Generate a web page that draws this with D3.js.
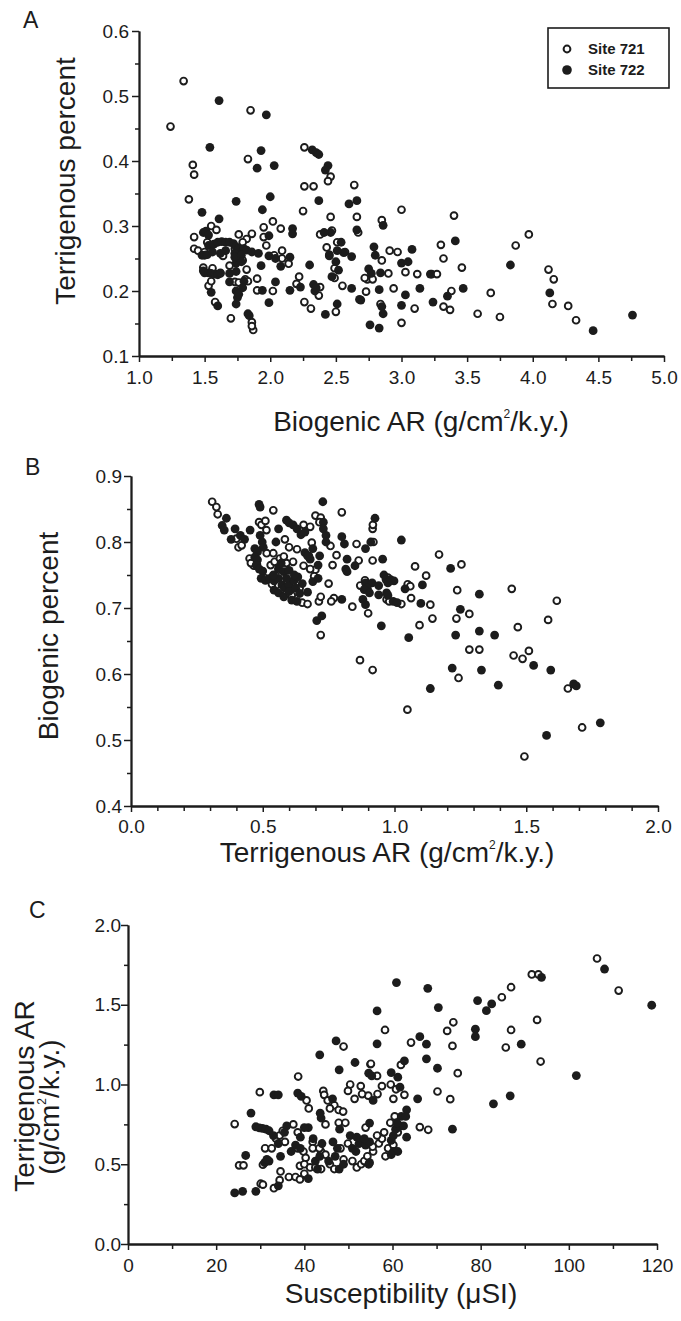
<!DOCTYPE html>
<html>
<head>
<meta charset="utf-8">
<title>Sites 721 and 722</title>
<script src="https://cdn.jsdelivr.net/npm/d3@7"></script>
<style>
body { margin: 0; background: #fff; }
svg text { font-family: "Liberation Sans", Arial, Helvetica, sans-serif; fill: #1c1c1c; }
</style>
</head>
<body>
<svg id="chart" width="681" height="1321"></svg>
<script>
/*jslint browser, multivar, white, fudge */
/*global window d3 */

//Panel A: biogenic AR (x) vs terrigenous percent (y)
var a721 = [
    [1.24,0.453],[1.34,0.523],[1.85,0.478],[1.83,0.403],[1.41,0.394],[1.42,0.379],
    [1.38,0.341],[2.26,0.421],[2.46,0.376],[2.44,0.369],[2.26,0.361],[2.33,0.361],
    [2.64,0.363],[2.25,0.323],[3.0,0.325],[3.40,0.316],[2.46,0.314],[2.66,0.314],
    [2.85,0.309],[2.02,0.307],[2.08,0.296],[1.95,0.298],[2.47,0.293],[2.38,0.287],
    [2.67,0.29],[1.86,0.288],[1.76,0.287],[1.55,0.3],[1.59,0.294],[1.42,0.283],
    [1.42,0.265],[3.97,0.287],[3.87,0.27],[3.30,0.271],[3.32,0.25],[3.46,0.236],
    [4.12,0.233],[4.16,0.218],[4.15,0.18],[4.27,0.177],[4.33,0.155],[3.58,0.165],
    [3.75,0.16],[3.68,0.197],[3.38,0.2],[3.32,0.176],[3.37,0.171],[3.23,0.226],
    [3.27,0.226],[3.10,0.173],[3.0,0.151],[3.12,0.226],[3.03,0.229],[2.97,0.26],
    [2.91,0.262],[2.94,0.204],[2.90,0.227],[2.84,0.18],[2.85,0.247],[2.74,0.218],
    [2.78,0.218],[2.73,0.199],[2.55,0.208],[2.43,0.267],[2.45,0.256],[2.49,0.235],
    [2.49,0.22],[2.50,0.168],[2.38,0.206],[2.37,0.193],[2.31,0.173],[2.26,0.183],
    [2.22,0.222],[2.20,0.211],[2.14,0.242],[2.09,0.262],[2.09,0.25],[1.95,0.283],
    [1.90,0.219],[1.90,0.201],[1.86,0.152],[1.87,0.14],[1.86,0.146],[1.70,0.158],
    [1.82,0.233],[1.81,0.218],[1.83,0.215],[1.73,0.214],[1.76,0.213],[1.69,0.239],
    [1.64,0.254],[1.49,0.236],[1.56,0.235],[1.53,0.208],[1.58,0.183],[1.82,0.28],
    [1.79,0.275],[1.73,0.265],[1.76,0.25],[1.79,0.247],[1.45,0.262],[1.50,0.26],
    [1.52,0.275],[1.62,0.227],[1.55,0.215],[2.03,0.255],[1.97,0.27],[2.51,0.275],
    [2.57,0.26],[2.72,0.22],[2.02,0.2]];
var a722 = [
    [1.61,0.493],[1.97,0.471],[1.54,0.421],[1.93,0.416],[1.90,0.389],[2.03,0.393],
    [1.74,0.338],[2.0,0.345],[1.94,0.325],[2.32,0.417],[2.35,0.413],[2.37,0.41],
    [2.44,0.393],[2.42,0.386],[2.37,0.339],[2.60,0.334],[2.66,0.339],[1.48,0.321],
    [1.61,0.311],[2.86,0.301],[2.17,0.296],[2.17,0.288],[2.46,0.29],[2.66,0.294],
    [1.49,0.29],[1.51,0.292],[1.53,0.286],[3.41,0.277],[3.83,0.24],[4.13,0.197],
    [4.46,0.139],[4.76,0.163],[3.47,0.204],[3.35,0.192],[3.24,0.183],[3.22,0.226],
    [3.14,0.204],[3.03,0.194],[3.0,0.178],[3.0,0.243],[3.05,0.245],[3.08,0.264],
    [2.84,0.228],[2.83,0.202],[2.85,0.176],[2.86,0.165],[2.76,0.148],[2.83,0.143],
    [2.79,0.268],[2.80,0.255],[2.75,0.234],[2.77,0.227],[2.69,0.186],[2.62,0.204],
    [2.62,0.253],[2.56,0.259],[2.51,0.262],[2.50,0.245],[2.52,0.232],[2.47,0.222],
    [2.51,0.18],[2.42,0.164],[2.33,0.21],[2.34,0.2],[2.35,0.205],[2.30,0.24],
    [2.23,0.206],[2.15,0.201],[2.15,0.252],[2.08,0.238],[2.04,0.214],[1.99,0.254],
    [1.99,0.285],[1.93,0.239],[1.94,0.201],[1.99,0.182],[1.83,0.165],[1.84,0.162],
    [1.74,0.18],[1.75,0.19],[1.74,0.2],[1.76,0.195],[1.69,0.214],[1.69,0.227],
    [1.53,0.27],[1.57,0.272],[1.60,0.275],[1.63,0.276],[1.66,0.275],[1.69,0.275],
    [1.72,0.273],[1.74,0.268],[1.76,0.265],[1.78,0.26],[1.73,0.258],[1.80,0.265],
    [1.82,0.263],[1.86,0.26],[1.91,0.258],[1.48,0.255],[1.50,0.255],[1.52,0.256],
    [1.49,0.231],[1.50,0.228],[1.53,0.228],[1.55,0.227],[1.58,0.226],[1.60,0.225],
    [1.62,0.228],[1.55,0.198],[1.60,0.177],[1.74,0.23],[1.74,0.243],[1.73,0.252],
    [1.78,0.255],[1.78,0.245],[1.66,0.262],[1.62,0.258],[1.56,0.26],[1.80,0.215],
    [1.79,0.205],[2.04,0.25],[2.41,0.29],[2.54,0.275],[2.68,0.187],[2.45,0.254]];

//Panel B: terrigenous AR (x) vs biogenic percent (y)
var b721 = [
    [0.308,0.861],[0.324,0.853],[0.329,0.842],[0.408,0.792],[0.54,0.848],[0.486,0.83],
    [0.495,0.826],[0.51,0.832],[0.514,0.818],[0.584,0.804],[0.515,0.783],[0.54,0.783],
    [0.466,0.764],[0.478,0.766],[0.60,0.792],[0.63,0.789],[0.655,0.826],[0.68,0.823],
    [0.686,0.799],[0.70,0.84],[0.72,0.837],[0.715,0.83],[0.80,0.845],[0.856,0.797],
    [0.917,0.82],[0.918,0.826],[0.92,0.8],[0.757,0.794],[0.78,0.78],[0.864,0.772],
    [0.917,0.772],[1.169,0.781],[1.078,0.763],[1.254,0.766],[1.12,0.749],[0.975,0.746],
    [0.888,0.742],[0.87,0.734],[1.05,0.736],[1.06,0.733],[1.238,0.727],[1.445,0.729],
    [0.97,0.713],[0.98,0.71],[1.026,0.706],[1.063,0.715],[1.136,0.705],[1.284,0.691],
    [1.235,0.684],[1.144,0.684],[1.095,0.674],[1.468,0.671],[1.583,0.682],[1.616,0.711],
    [0.90,0.692],[0.84,0.702],[0.869,0.621],[0.917,0.606],[1.049,0.546],[1.243,0.594],
    [1.284,0.637],[1.322,0.637],[1.452,0.628],[1.486,0.623],[1.51,0.635],[1.658,0.578],
    [1.712,0.519],[1.493,0.475],[0.72,0.659],[0.713,0.71],[0.72,0.717],[0.77,0.715],
    [0.76,0.71],[0.75,0.737],[0.70,0.758],[0.695,0.748],[0.765,0.765],[0.51,0.745],
    [0.535,0.736],[0.568,0.727],[0.61,0.719],[0.65,0.708],[0.67,0.706],[0.53,0.765],
    [0.545,0.77],[0.565,0.775],[0.59,0.768],[0.615,0.77],[0.655,0.764],[0.68,0.759],
    [0.675,0.779],[0.58,0.778],[0.56,0.758],[0.45,0.775],[0.455,0.768],[0.62,0.742],
    [0.64,0.73],[0.40,0.805],[0.42,0.795]];
var b722 = [
    [0.362,0.836],[0.346,0.825],[0.354,0.818],[0.395,0.82],[0.38,0.804],[0.415,0.81],
    [0.431,0.804],[0.452,0.818],[0.486,0.857],[0.49,0.853],[0.49,0.81],[0.498,0.8],
    [0.502,0.792],[0.56,0.82],[0.59,0.833],[0.60,0.829],[0.615,0.826],[0.47,0.79],
    [0.48,0.785],[0.47,0.777],[0.48,0.773],[0.475,0.765],[0.487,0.759],[0.50,0.756],
    [0.55,0.8],[0.63,0.82],[0.645,0.811],[0.66,0.815],[0.69,0.79],[0.66,0.784],
    [0.68,0.774],[0.67,0.779],[0.728,0.861],[0.73,0.83],[0.73,0.82],[0.74,0.81],
    [0.74,0.8],[0.80,0.808],[0.81,0.797],[0.89,0.79],[0.91,0.8],[0.926,0.836],
    [0.716,0.779],[0.82,0.774],[0.85,0.764],[0.955,0.774],[1.026,0.803],[1.213,0.76],
    [0.96,0.75],[0.968,0.743],[0.985,0.743],[0.998,0.741],[0.975,0.738],[0.89,0.738],
    [0.915,0.738],[0.94,0.734],[0.897,0.73],[0.885,0.728],[0.905,0.723],[0.94,0.72],
    [1.04,0.729],[1.106,0.735],[1.322,0.721],[0.97,0.723],[0.975,0.719],[0.995,0.71],
    [1.01,0.708],[1.10,0.707],[1.25,0.698],[0.95,0.673],[1.232,0.659],[1.322,0.665],
    [1.38,0.659],[1.054,0.655],[0.88,0.713],[0.89,0.705],[1.136,0.578],[1.219,0.609],
    [1.33,0.606],[1.394,0.583],[1.528,0.613],[1.593,0.606],[1.68,0.585],[1.69,0.582],
    [1.781,0.526],[1.577,0.507],[0.705,0.681],[0.724,0.688],[0.8,0.713],[0.71,0.765],
    [0.815,0.759],[0.82,0.755],[0.494,0.745],[0.51,0.742],[0.527,0.745],[0.543,0.741],
    [0.56,0.745],[0.573,0.735],[0.585,0.73],[0.60,0.735],[0.617,0.742],[0.633,0.747],
    [0.65,0.737],[0.543,0.727],[0.56,0.723],[0.58,0.717],[0.6,0.725],[0.625,0.73],
    [0.64,0.722],[0.61,0.712],[0.63,0.71],[0.67,0.724],[0.69,0.74],[0.71,0.745],
    [0.56,0.76],[0.58,0.755],[0.6,0.757],[0.62,0.75],[0.59,0.745],[0.54,0.75],
    [0.57,0.768]];

//Panel C: susceptibility (x) vs terrigenous AR (y)
var c721 = [
    [106.4,1.79],[111.3,1.589],[91.6,1.69],[93.1,1.69],[86.9,1.61],[84.8,1.547],
    [86.9,1.342],[92.8,1.405],[85.7,1.232],[93.6,1.144],[68.1,0.716],[66.2,0.733],
    [73.1,0.908],[70.2,0.956],[74.8,1.071],[73.6,1.242],[72.4,1.336],[73.8,1.39],
    [64.2,1.263],[58.3,1.342],[48.9,1.238],[55.0,1.127],[56.5,1.054],[61.9,1.123],
    [59.6,1.0],[60.8,0.97],[60.2,0.91],[62.7,0.935],[57.6,0.99],[56.6,0.94],
    [54.5,0.93],[52.8,0.99],[53.1,0.94],[51.4,0.91],[50.4,1.0],[49.9,0.96],
    [44.3,0.96],[44.5,0.935],[45.3,0.9],[46.8,0.87],[45.8,0.85],[47.8,0.84],
    [48.8,0.83],[44.8,0.75],[47.8,0.76],[49.3,0.76],[29.9,0.952],[24.2,0.752],
    [25.2,0.493],[26.2,0.493],[30.1,0.378],[30.6,0.372],[33.1,0.35],[34.4,0.4],
    [34.6,0.455],[30.6,0.497],[31.1,0.6],[32.6,0.6],[33.6,0.66],[34.4,0.68],
    [35.1,0.71],[35.6,0.64],[36.5,0.42],[38.0,0.42],[39.0,0.405],[40.0,0.44],
    [39.0,0.49],[38.5,0.6],[39.8,0.58],[40.3,0.54],[40.0,0.5],[41.3,0.48],
    [42.5,0.48],[43.8,0.47],[43.8,0.58],[44.8,0.56],[45.8,0.5],[46.8,0.47],
    [41.9,0.64],[41.9,0.6],[43.4,0.6],[48.2,0.6],[49.9,0.63],[48.9,0.53],
    [50.9,0.52],[51.9,0.48],[52.9,0.5],[53.6,0.52],[54.3,0.55],[55.6,0.58],
    [56.9,0.63],[57.6,0.66],[58.1,0.7],[56.5,0.68],[53.9,0.73],[55.5,0.61],
    [59.0,0.6],[60.2,0.62],[61.2,0.7],[59.5,0.76],[60.5,0.8],[58.4,0.55],
    [38.5,0.7],[37.5,0.75],[40.5,0.9],[41.0,0.85],[38.6,1.05],[55.1,1.13]];
var c722 = [
    [108.1,1.724],[118.8,1.497],[93.8,1.672],[82.5,1.505],[81.3,1.463],[79.3,1.526],
    [78.8,1.347],[78.8,1.3],[89.2,1.253],[101.7,1.056],[86.7,0.929],[82.9,0.879],
    [73.6,0.72],[70.2,1.102],[67.7,1.161],[67.7,1.253],[66.2,1.3],[68.0,1.603],
    [70.4,1.482],[60.9,1.639],[56.5,1.461],[56.5,1.255],[47.2,1.273],[43.5,1.186],
    [47.9,1.092],[51.5,1.138],[54.6,1.071],[55.3,1.054],[59.7,1.075],[62.7,1.148],
    [61.2,1.046],[61.7,0.983],[63.2,0.841],[65.7,0.91],[55.6,0.9],[54.8,0.758],
    [46.4,0.91],[43.8,0.79],[43.6,0.82],[38.5,0.946],[39.3,0.925],[33.1,0.935],
    [34.1,0.935],[27.9,0.821],[29.0,0.735],[29.8,0.728],[30.5,0.725],[31.3,0.72],
    [32.0,0.71],[26.7,0.555],[24.2,0.32],[26.0,0.33],[29.0,0.33],[34.1,0.365],
    [31.0,0.51],[32.0,0.52],[31.5,0.53],[34.1,0.63],[34.6,0.55],[33.0,0.68],
    [38.0,0.62],[39.1,0.67],[39.1,0.6],[40.9,0.41],[42.5,0.52],[43.5,0.55],
    [45.5,0.52],[47.0,0.55],[47.5,0.6],[46.5,0.64],[40.9,0.73],[40.0,0.73],
    [47.9,0.47],[48.9,0.5],[50.9,0.6],[51.7,0.58],[52.4,0.63],[53.9,0.62],
    [54.8,0.64],[54.6,0.5],[54.8,0.51],[50.4,0.68],[51.9,0.67],[53.6,0.66],
    [59.7,0.65],[60.2,0.68],[60.7,0.72],[61.2,0.73],[61.7,0.74],[62.5,0.74],
    [63.2,0.67],[60.2,0.58],[61.2,0.58],[59.7,0.56],[62.0,0.8],[63.0,0.8],
    [61.0,0.76],[36.0,0.74],[35.5,0.7],[37.0,0.58],[42.0,0.66],[44.0,0.63],
    [48.0,0.72],[43.0,0.47]];

//labelled tick values, minor ticks are generated between them
var aXTicks = [1.0, 1.5, 2.0, 2.5, 3.0, 3.5, 4.0, 4.5, 5.0],
    aYTicks = [0.1, 0.2, 0.3, 0.4, 0.5, 0.6],
    bXTicks = [0.0, 0.5, 1.0, 1.5, 2.0],
    bYTicks = [0.4, 0.5, 0.6, 0.7, 0.8, 0.9],
    cXTicks = [0, 20, 40, 60, 80, 100, 120],
    cYTicks = [0.0, 0.5, 1.0, 1.5, 2.0];

var siteNames = ["Site 721", "Site 722"];


var app = (function () {
    "use strict";

    var ink = "#1c1c1c";

    function minorTicks (major, parts) {
        var out = [], i, j, step;
        for(i = 0; i < major.length - 1; i += 1) {
            step = (major[i + 1] - major[i]) / parts;
            for(j = 1; j < parts; j += 1) {
                out.push(major[i] + j * step); } }
        return out;
    }


    function styleAxis (sel) {
        sel.select(".domain").attr("stroke", ink).attr("stroke-width", 1.8);
        sel.selectAll(".tick line").attr("stroke", ink).attr("stroke-width", 1.5);
        sel.selectAll(".tick text").attr("font-size", 19).attr("fill", ink);
    }


    function drawAxes (g, pd) {
        //minor ticks, no labels
        g.append("g").attr("transform", "translate(0," + pd.y.range()[0] + ")")
            .call(d3.axisBottom(pd.x).tickValues(minorTicks(pd.xt, pd.xm))
                  .tickSize(5).tickSizeOuter(0).tickFormat(""))
            .call(styleAxis);
        g.append("g").attr("transform", "translate(" + pd.x.range()[0] + ",0)")
            .call(d3.axisLeft(pd.y).tickValues(minorTicks(pd.yt, pd.ym))
                  .tickSize(4).tickSizeOuter(0).tickFormat(""))
            .call(styleAxis);
        g.append("g").attr("transform", "translate(0," + pd.y.range()[0] + ")")
            .call(d3.axisBottom(pd.x).tickValues(pd.xt).tickSize(6)
                  .tickSizeOuter(0).tickPadding(pd.xpad).tickFormat(pd.xf))
            .call(styleAxis);
        g.append("g").attr("transform", "translate(" + pd.x.range()[0] + ",0)")
            .call(d3.axisLeft(pd.y).tickValues(pd.yt).tickSize(7)
                  .tickSizeOuter(0).tickPadding(pd.ypad).tickFormat(d3.format(".1f")))
            .call(styleAxis);
    }


    function drawPoints (g, pd) {
        g.append("g").selectAll("circle").data(pd.open).join("circle")
            .attr("cx", function (d) { return pd.x(d[0]); })
            .attr("cy", function (d) { return pd.y(d[1]); })
            .attr("r", 3.4)
            .attr("fill", "#fff")
            .attr("stroke", ink)
            .attr("stroke-width", 1.9);
        g.append("g").selectAll("circle").data(pd.filled).join("circle")
            .attr("cx", function (d) { return pd.x(d[0]); })
            .attr("cy", function (d) { return pd.y(d[1]); })
            .attr("r", 4.4)
            .attr("fill", ink);
    }


    //title text with a superscript 2 after "cm"
    function unitTitle (txt, pre) {
        txt.append("tspan").text(pre + "(g/cm");
        txt.append("tspan").attr("font-size", 12).attr("dy", -13).text("2");
        txt.append("tspan").attr("dy", 13).text("/k.y.)");
    }


    function drawLegend (g) {
        var lg = g.append("g");
        lg.append("rect").attr("x", 548).attr("y", 28)
            .attr("width", 121).attr("height", 60)
            .attr("fill", "none").attr("stroke", ink).attr("stroke-width", 1.6);
        lg.append("circle").attr("cx", 567).attr("cy", 49).attr("r", 3.4)
            .attr("fill", "#fff").attr("stroke", ink).attr("stroke-width", 2);
        lg.append("circle").attr("cx", 567).attr("cy", 70).attr("r", 4.8)
            .attr("fill", ink);
        lg.selectAll("text").data(siteNames).join("text")
            .attr("x", 588)
            .attr("y", function (ignore, i) { return 54 + i * 21; })
            .attr("font-size", 15)
            .attr("font-weight", "bold")
            .text(function (d) { return d; });
    }


    function panelLabel (g, txt, x, y) {
        g.append("text").attr("x", x).attr("y", y)
            .attr("font-size", 23).text(txt);
    }


    function drawChart () {
        var svg = d3.select("#chart"), ga, gb, gc, t, xs, ys;
        //Panel A
        ga = svg.append("g");
        xs = d3.scaleLinear().domain([1, 5]).range([139, 664]);
        ys = d3.scaleLinear().domain([0.1, 0.6]).range([356, 31]);
        drawAxes(ga, {x: xs, y: ys, xt: aXTicks, xm: 2, yt: aYTicks, ym: 2,
                      xpad: 9, ypad: 3, xf: d3.format(".1f")});
        drawPoints(ga, {x: xs, y: ys, open: a721, filled: a722});
        panelLabel(ga, "A", 23, 28);
        drawLegend(ga);
        ga.append("text").attr("transform", "translate(75,181) rotate(-90)")
            .attr("text-anchor", "middle").attr("font-size", 28)
            .text("Terrigenous percent");
        t = ga.append("text").attr("x", 421).attr("y", 431)
            .attr("text-anchor", "middle").attr("font-size", 28);
        unitTitle(t, "Biogenic AR ");
        //Panel B
        gb = svg.append("g");
        xs = d3.scaleLinear().domain([0, 2]).range([131, 658]);
        ys = d3.scaleLinear().domain([0.4, 0.9]).range([806, 476]);
        drawAxes(gb, {x: xs, y: ys, xt: bXTicks, xm: 5, yt: bYTicks, ym: 2,
                      xpad: 8, ypad: 2, xf: d3.format(".1f")});
        drawPoints(gb, {x: xs, y: ys, open: b721, filled: b722});
        panelLabel(gb, "B", 25, 475);
        gb.append("text").attr("transform", "translate(58,636) rotate(-90)")
            .attr("text-anchor", "middle").attr("font-size", 28)
            .text("Biogenic percent");
        t = gb.append("text").attr("x", 387).attr("y", 862)
            .attr("text-anchor", "middle").attr("font-size", 28);
        unitTitle(t, "Terrigenous AR ");
        //Panel C
        gc = svg.append("g");
        xs = d3.scaleLinear().domain([0, 120]).range([128, 657]);
        ys = d3.scaleLinear().domain([0, 2]).range([1244, 925]);
        drawAxes(gc, {x: xs, y: ys, xt: cXTicks, xm: 2, yt: cYTicks, ym: 2,
                      xpad: 9, ypad: 0, xf: d3.format("d")});
        drawPoints(gc, {x: xs, y: ys, open: c721, filled: c722});
        panelLabel(gc, "C", 29, 918);
        gc.append("text").attr("transform", "translate(34,1096) rotate(-90)")
            .attr("text-anchor", "middle").attr("font-size", 28)
            .text("Terrigenous AR");
        t = gc.append("text").attr("transform", "translate(59,1107) rotate(-90)")
            .attr("text-anchor", "middle").attr("font-size", 28);
        unitTitle(t, "");
        gc.append("text").attr("x", 401).attr("y", 1303)
            .attr("text-anchor", "middle").attr("font-size", 28)
            .text("Susceptibility (\u03bcSI)");
    }


return {
    init: function () {
        drawChart();
    }
};
}());

app.init();
</script>
</body>
</html>
